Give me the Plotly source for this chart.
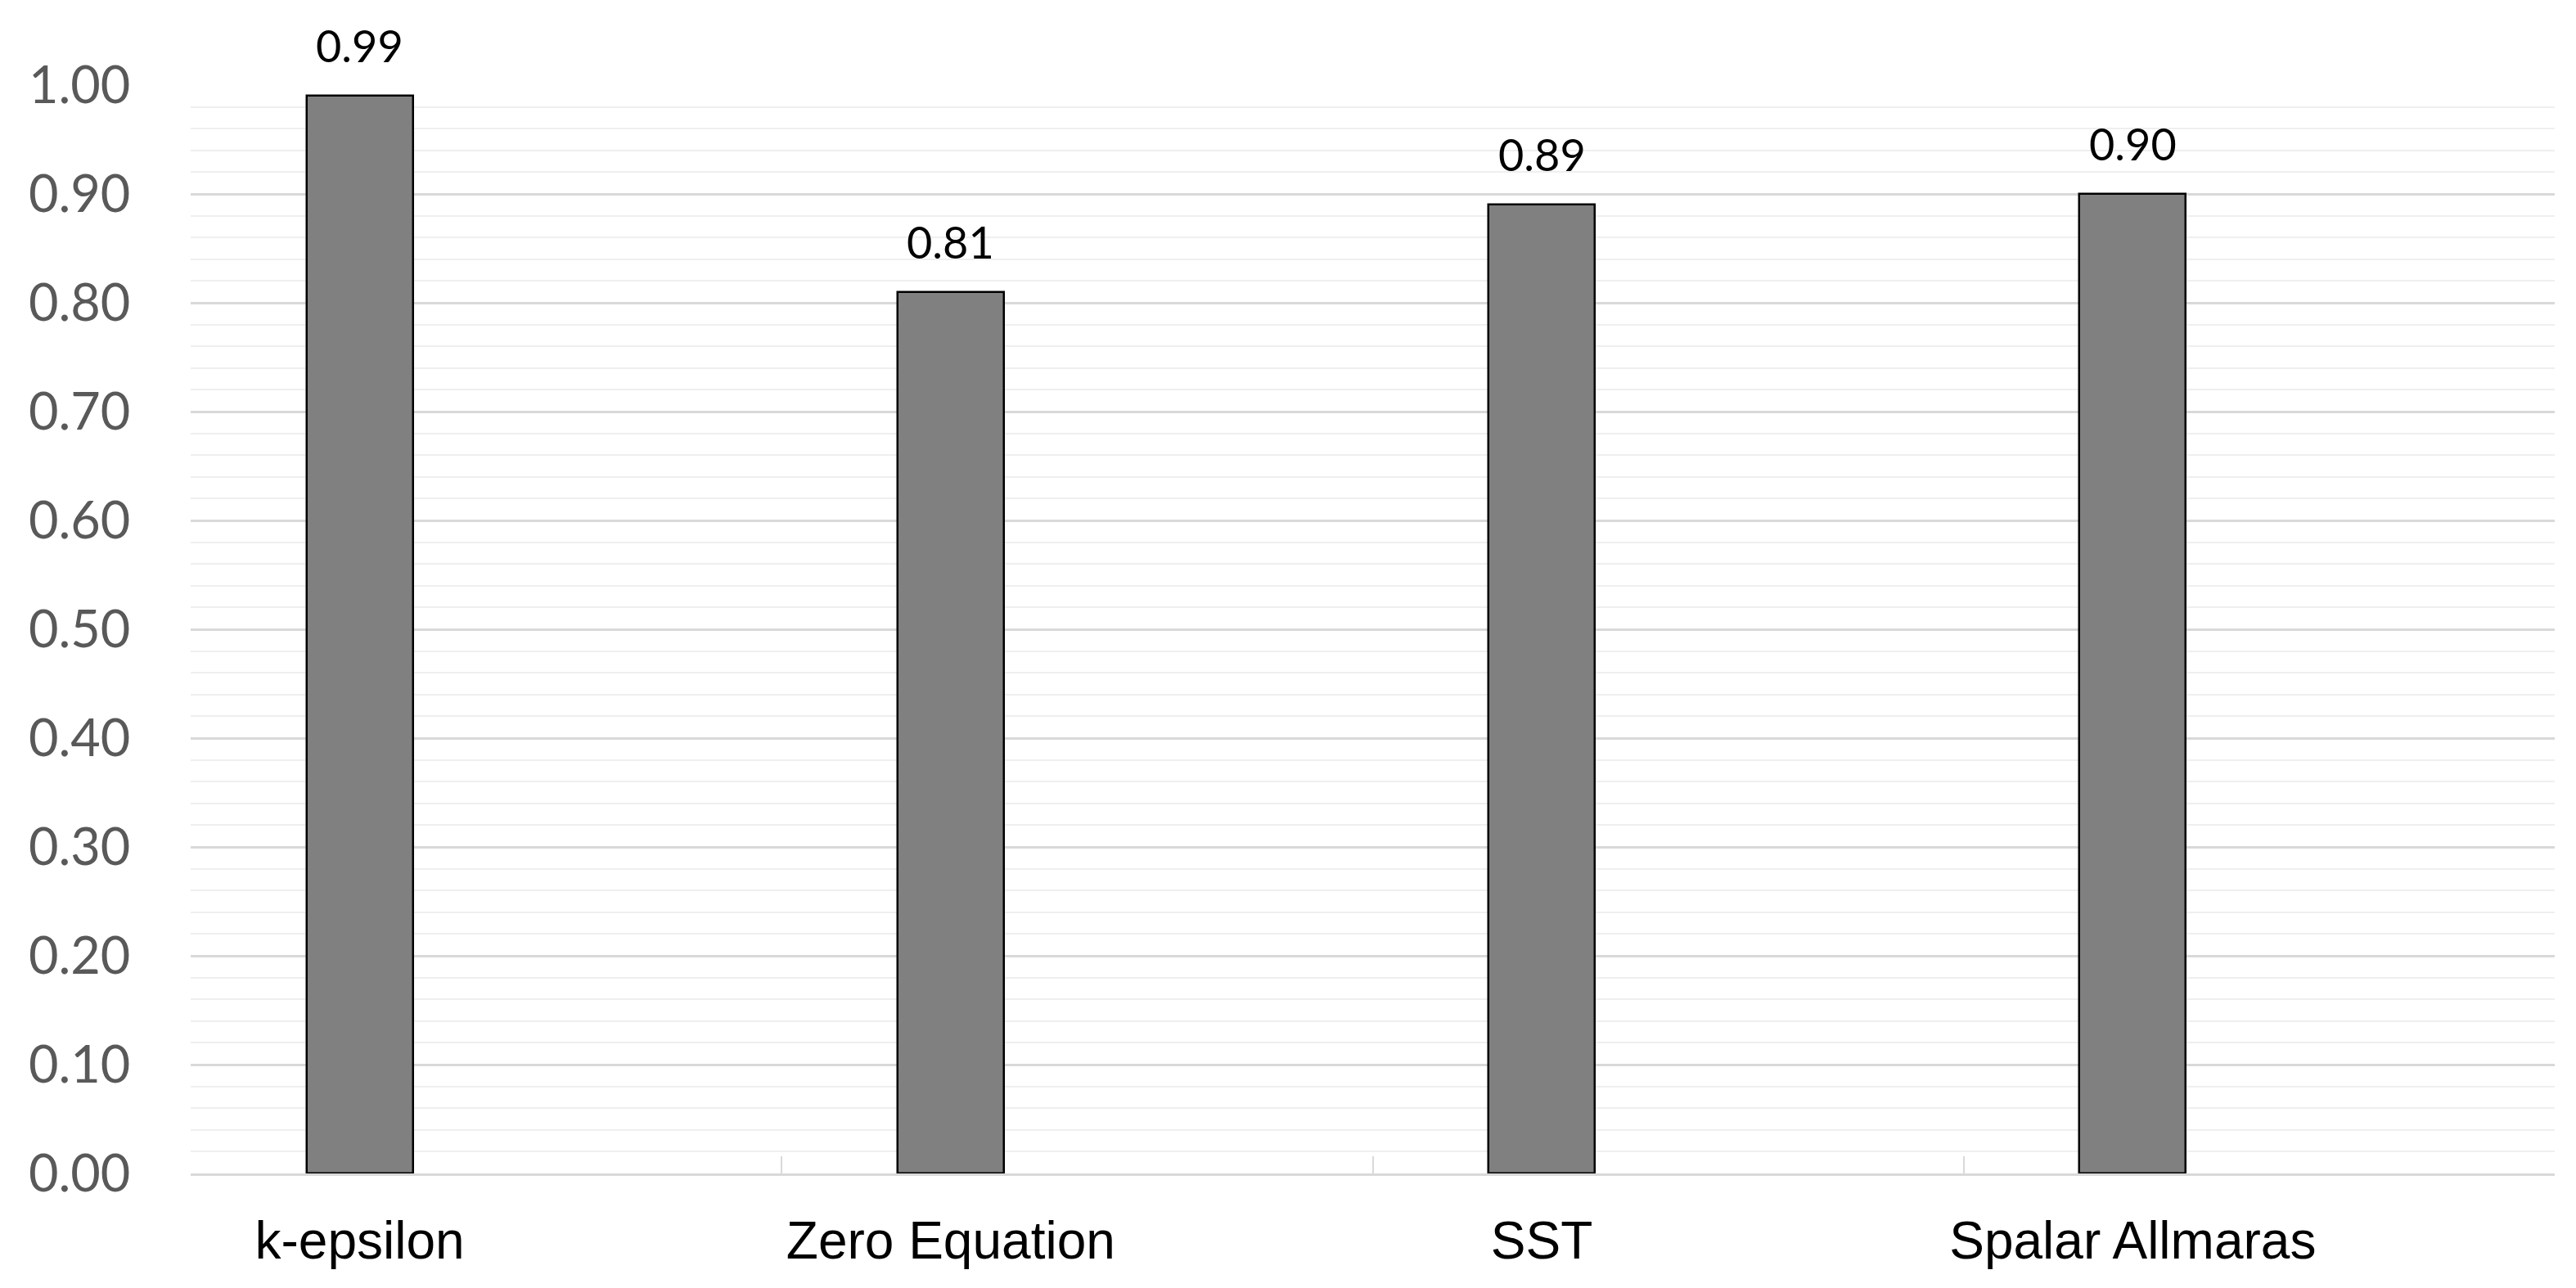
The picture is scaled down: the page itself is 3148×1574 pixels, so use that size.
import plotly.graph_objects as go

categories = ["k-epsilon", "Zero Equation", "SST", "Spalar Allmaras"]
values = [0.99, 0.81, 0.89, 0.90]
y_ticks = [0.0, 0.1, 0.2, 0.3, 0.4, 0.5, 0.6, 0.7, 0.8, 0.9, 1.0]

pos = list(range(len(categories)))
offset = 0.286  # bar center offset from category boundary
bounds = [p - offset for p in pos] + [pos[-1] + 1 - offset]

fig = go.Figure()
fig.add_trace(go.Bar(
    x=pos, y=values, width=0.18,
    marker=dict(color="#808080", line=dict(color="#000000", width=2.5)),
    xaxis="x", yaxis="y", showlegend=False, hoverinfo="skip",
))
# invisible trace for label axis
fig.add_trace(go.Scatter(x=pos, y=[None]*len(pos), xaxis="x2", yaxis="y",
                         showlegend=False, hoverinfo="skip"))

for p, v in zip(pos, values):
    fig.add_annotation(x=p, y=v, xref="x", yref="y", text=f"{v:.2f}",
                       showarrow=False, yanchor="bottom", yshift=27,
                       font=dict(family="Lato", size=54, color="#000000"))

xr = [bounds[0], bounds[-1]]
fig.update_layout(
    width=3148, height=1574,
    paper_bgcolor="white", plot_bgcolor="white",
    margin=dict(l=225, r=34, t=96, b=148, autoexpand=False),
    bargap=0,
    xaxis=dict(range=xr, tickvals=bounds, showticklabels=False, automargin=False,
               ticks="inside", ticklen=21, tickwidth=2, tickcolor="#d9d9d9",
               showgrid=False, zeroline=False, showline=True,
               linecolor="#d9d9d9", linewidth=3),
    xaxis2=dict(range=xr, overlaying="x", side="bottom", anchor="y", automargin=False,
                tickvals=pos, ticktext=categories,
                ticks="outside", ticklen=26, tickcolor="rgba(0,0,0,0)",
                showgrid=False, zeroline=False, showline=False,
                tickfont=dict(family="Liberation Sans", size=64, color="#000000")),
    yaxis=dict(range=[0, 1.0], tickvals=y_ticks, automargin=False,
               ticktext=[f"{t:.2f}" for t in y_ticks],
               tickfont=dict(family="Lato", size=63, color="#595959"),
               showgrid=True, gridcolor="#d9d9d9", gridwidth=3,
               zeroline=False, showline=False,
               ticks="outside", ticklen=60, tickcolor="rgba(0,0,0,0)",
               minor=dict(dtick=0.02, showgrid=True, gridcolor="#efefef", gridwidth=2)),
)
fig.write_html("out.html")
